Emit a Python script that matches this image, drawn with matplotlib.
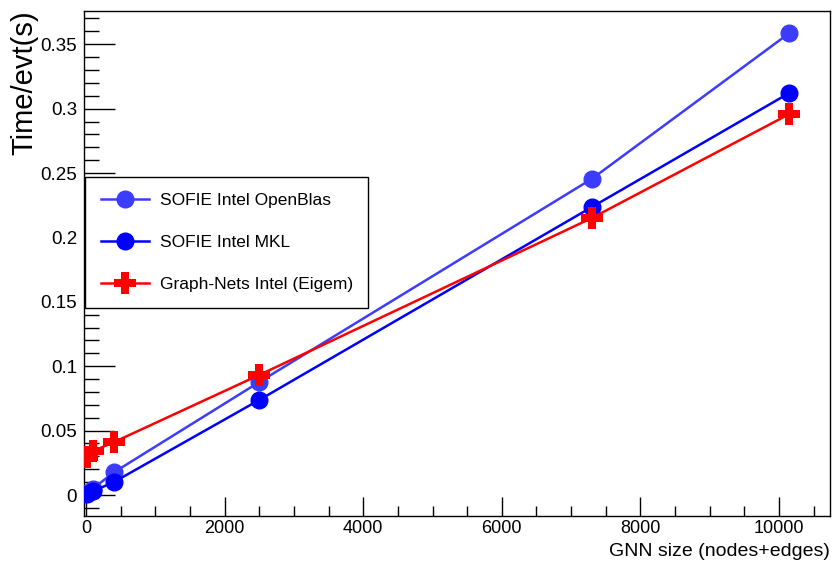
import numpy as np
import matplotlib
matplotlib.use("Agg")
import matplotlib.pyplot as plt
from matplotlib.ticker import MultipleLocator, FuncFormatter

# GNN size (nodes+edges)
gnn_size = [20, 100, 400, 2500, 7300, 10150]

# Time per event (s)
t_openblas = [0.0015, 0.005, 0.0175, 0.0877, 0.2455, 0.3587]
t_mkl = [0.001, 0.003, 0.010, 0.0738, 0.2236, 0.3122]
t_graphnets = [0.0295, 0.034, 0.041, 0.0932, 0.2151, 0.2958]

labels = ["SOFIE Intel OpenBlas", "SOFIE Intel MKL", "Graph-Nets Intel (Eigem)"]

plt.rcParams['font.family'] = ['Liberation Sans', 'DejaVu Sans']

fig = plt.figure(figsize=(8.34, 5.61), dpi=100)
ax = fig.add_axes([84/834, 1-516/561, 746/834, 505/561])

ax.plot(gnn_size, t_openblas, color='#3c3cff', lw=1.8, marker='o', ms=12,
        label=labels[0], zorder=3)
ax.plot(gnn_size, t_mkl, color='#0000ff', lw=1.8, marker='o', ms=12,
        label=labels[1], zorder=3)
ax.plot(gnn_size, t_graphnets, color='#ff0000', lw=1.8, marker='P', ms=16,
        mew=0, label=labels[2], zorder=4)

ax.set_xlim(-29, 10736)
ax.set_ylim(-0.0163, 0.3758)

ax.xaxis.set_major_locator(MultipleLocator(2000))
ax.xaxis.set_minor_locator(MultipleLocator(500))
ax.yaxis.set_major_locator(MultipleLocator(0.05))
ax.yaxis.set_minor_locator(MultipleLocator(0.01))
ax.yaxis.set_major_formatter(FuncFormatter(lambda v, p: '%g' % round(v, 3)))

ax.tick_params(axis='x', which='major', direction='in', length=14, width=1,
               labelsize=13, pad=3, top=False)
ax.tick_params(axis='x', which='minor', direction='in', length=7, width=1, top=False)
ax.tick_params(axis='y', which='major', direction='in', length=22, width=1,
               labelsize=13.5, pad=5, right=False)
ax.tick_params(axis='y', which='minor', direction='in', length=11, width=1, right=False)
for s in ax.spines.values():
    s.set_linewidth(1)

fig.text(830/834, 1-560/561, "GNN size (nodes+edges)", ha='right', va='bottom',
         fontsize=14)
fig.text(24/834, 1-10/561, "Time/evt(s)", ha='center', va='top', rotation=90,
         fontsize=21)

leg = ax.legend(loc='upper left', bbox_to_anchor=(85/834, 1-177/561),
                bbox_transform=fig.transFigure, borderaxespad=0, fancybox=False,
                edgecolor='black', framealpha=1, fontsize=12.5, handlelength=2.8,
                labelspacing=1.55, borderpad=0.9, handletextpad=0.6, markerscale=1)
leg.get_frame().set_linewidth(1)

fig.savefig("out.png", dpi=100)
